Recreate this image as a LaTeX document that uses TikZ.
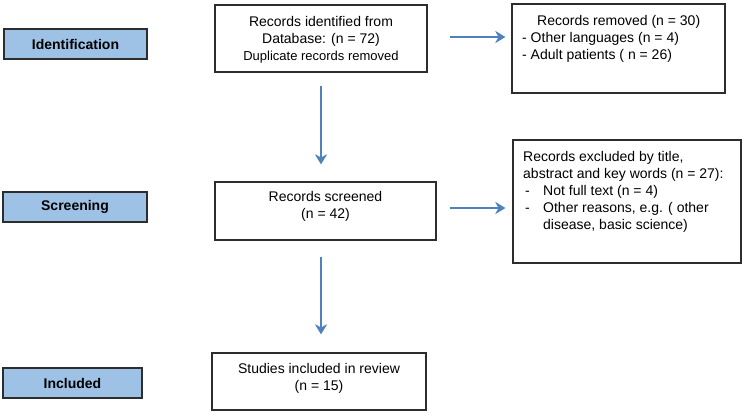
\documentclass[tikz,border=0pt]{standalone}
\usepackage{fontspec}
\setmainfont{Liberation Sans}
\usetikzlibrary{arrows.meta,calc}
\definecolor{arrowblue}{RGB}{79,129,189}
\definecolor{stagefill}{RGB}{157,194,230}
\definecolor{boxline}{RGB}{45,45,45}
\begin{document}
\begin{tikzpicture}[x=1pt,y=-1pt,
  stage/.style={draw=boxline, line width=1.3pt, fill=stagefill, minimum height=30pt, inner sep=0pt,
    font=\fontsize{14}{17}\selectfont\bfseries},
  recbox/.style={draw=boxline, line width=1.2pt, inner sep=0pt},
  txt/.style={inner sep=0pt, font=\fontsize{14}{17}\selectfont},
  flow/.style={draw=arrowblue, line width=2.7pt, -{Stealth[length=10pt,width=12pt,inset=3pt]}}]
\useasboundingbox (0,0) rectangle (753,416);

% stage labels
\node[stage, minimum width=143pt] (sid) at (75.5,44) {Identification};
\node[stage, minimum width=144pt] (sscr) at (75,207) {Screening};
\node[stage, minimum width=139pt] (sinc) at (72.5,383) {Included};

% record boxes
\node[recbox, minimum width=212pt, minimum height=67pt] (idf) at (321,38.5) {};
\node[txt, align=center] (idftxt) at (321,39.5) {Records identified from\\Database: (n = 72)\\{\fontsize{13}{17}\selectfont Duplicate records removed}};

\node[recbox, minimum width=213pt, minimum height=89pt] (rem) at (618.5,48.5) {};
\node[txt, align=left, anchor=north west] (remtxt) at (522,15) {\hspace*{15pt}Records removed (n = 30)\\- Other languages (n = 4)\\- Adult patients ( n = 26)};

\node[recbox, minimum width=228pt, minimum height=123pt] (exc) at (627,201.5) {};
\node[txt, align=left, anchor=north west] (exctxt) at (523,151) {Records excluded by title,\\abstract and key words (n = 27):\\\makebox[20pt][l]{\hspace*{2pt}-}Not full text (n = 4)\\\makebox[20pt][l]{\hspace*{2pt}-}Other reasons, e.g. ( other\\\hspace*{20pt}disease, basic science)};

\node[recbox, minimum width=221pt, minimum height=58pt] (scr) at (325.5,211) {};
\node[txt, align=center] (scrtxt) at (325.5,206.5) {Records screened\\(n = 42)};

\node[recbox, minimum width=214pt, minimum height=57pt] (inc) at (319,381.5) {};
\node[txt, align=center] (inctxt) at (319,378) {Studies included in review\\(n = 15)};

% connectors
\coordinate (a1s) at ($(idf.south)+(0,13)$);
\coordinate (a1e) at ($(scr.north)+(0,-17)$);
\draw[flow] (a1s) -- (a1s |- a1e);
\coordinate (a2s) at ($(scr.south)+(0,16)$);
\coordinate (a2e) at ($(inc.north)+(0,-18)$);
\draw[flow] (a2s -| a1s) -- (a2e -| a1s);
\coordinate (h1s) at ($(idf.east)+(22,-1.5)$);
\coordinate (h1e) at ($(rem.west)+(-6,0)$);
\draw[flow] (h1s) -- (h1s -| h1e);
\coordinate (h2s) at ($(scr.east)+(13,-3)$);
\coordinate (h2e) at ($(exc.west)+(-7,0)$);
\draw[flow] (h2s -| h1s) -- (h2s -| h2e);
\end{tikzpicture}
\end{document}
